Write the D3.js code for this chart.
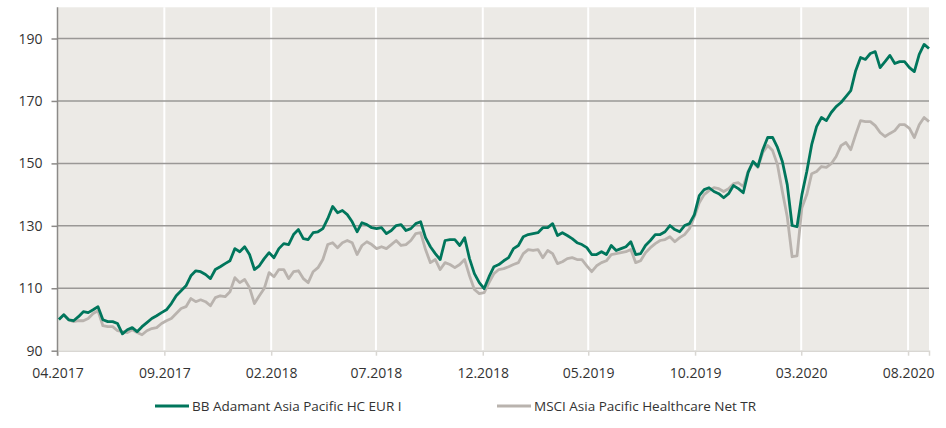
<!DOCTYPE html>
<html>
<head>
<meta charset="utf-8">
<script src="https://cdn.jsdelivr.net/npm/d3@7/dist/d3.min.js"></script>
<style>
  html, body { margin: 0; padding: 0; background: #ffffff; }
  svg { display: block; }
  text { font-family: "Open Sans", "Noto Sans", sans-serif; fill: #333333; }
</style>
</head>
<body>
<svg id="chart" width="946" height="428"></svg>
<script>
const dates = [
"2017-04-03","2017-04-10","2017-04-17","2017-04-24","2017-05-01","2017-05-08","2017-05-15","2017-05-22","2017-05-29","2017-06-05",
"2017-06-12","2017-06-19","2017-06-26","2017-07-03","2017-07-10","2017-07-17","2017-07-24","2017-07-31","2017-08-07","2017-08-14",
"2017-08-21","2017-08-28","2017-09-04","2017-09-11","2017-09-18","2017-09-25","2017-10-02","2017-10-09","2017-10-16","2017-10-23",
"2017-10-30","2017-11-06","2017-11-13","2017-11-20","2017-11-27","2017-12-04","2017-12-11","2017-12-18","2017-12-25",
"2018-01-01","2018-01-08","2018-01-15","2018-01-22","2018-01-29","2018-02-05","2018-02-12","2018-02-19","2018-02-26","2018-03-05",
"2018-03-12","2018-03-19","2018-03-26","2018-04-02","2018-04-09","2018-04-16","2018-04-23","2018-04-30","2018-05-07","2018-05-14",
"2018-05-21","2018-05-28","2018-06-04","2018-06-11","2018-06-18","2018-06-25","2018-07-02","2018-07-09","2018-07-16","2018-07-23",
"2018-07-30","2018-08-06","2018-08-13","2018-08-20","2018-08-27","2018-09-03","2018-09-10","2018-09-17","2018-09-24","2018-10-01",
"2018-10-08","2018-10-15","2018-10-22","2018-10-29","2018-11-05","2018-11-12","2018-11-19","2018-11-26","2018-12-03","2018-12-10",
"2018-12-17","2018-12-24","2018-12-31",
"2019-01-07","2019-01-14","2019-01-21","2019-01-28","2019-02-04","2019-02-11","2019-02-18","2019-02-25","2019-03-04","2019-03-11",
"2019-03-18","2019-03-25","2019-04-01","2019-04-08","2019-04-15","2019-04-22","2019-04-29","2019-05-06","2019-05-13","2019-05-20",
"2019-05-27","2019-06-03","2019-06-10","2019-06-17","2019-06-24","2019-07-01","2019-07-08","2019-07-15","2019-07-22","2019-07-29",
"2019-08-05","2019-08-12","2019-08-19","2019-08-26","2019-09-02","2019-09-09","2019-09-16","2019-09-23","2019-09-30","2019-10-07",
"2019-10-14","2019-10-21","2019-10-28","2019-11-04","2019-11-11","2019-11-18","2019-11-25","2019-12-02","2019-12-09","2019-12-16",
"2019-12-23","2019-12-30",
"2020-01-06","2020-01-13","2020-01-20","2020-01-27","2020-02-03","2020-02-10","2020-02-17","2020-02-24","2020-03-02","2020-03-09",
"2020-03-16","2020-03-23","2020-03-30","2020-04-06","2020-04-13","2020-04-20","2020-04-27","2020-05-04","2020-05-11","2020-05-18",
"2020-05-25","2020-06-01","2020-06-08","2020-06-15","2020-06-22","2020-06-29","2020-07-06","2020-07-13","2020-07-20","2020-07-27",
"2020-08-03","2020-08-10","2020-08-17","2020-08-24","2020-08-31"
];

const fundValues = [
100.0,101.5,99.9,99.6,100.9,102.5,102.2,103.1,104.1,99.9,
99.3,99.3,98.7,95.4,96.7,97.4,96.1,97.7,99.0,100.3,
101.2,102.2,103.1,105.1,107.6,109.2,110.8,114.0,115.6,115.3,
114.4,113.1,116.0,116.9,117.9,118.8,122.7,121.7,123.3,120.8,
116.0,117.2,119.5,121.4,119.8,122.7,124.3,124.0,127.2,128.8,
125.9,125.6,127.8,128.1,129.1,132.3,136.2,134.2,134.9,133.6,
131.3,128.1,131.0,130.4,129.4,129.1,129.4,127.5,128.5,130.1,
130.4,128.5,129.1,130.7,131.3,126.2,123.3,121.1,119.2,125.3,
125.6,125.6,123.7,126.2,119.5,114.7,111.8,109.9,113.7,116.9,
117.6,118.8,119.8,122.7,123.7,126.5,127.2,127.5,127.8,129.4,
129.4,130.7,126.9,127.8,126.9,125.9,124.6,124.0,123.0,120.8,
120.8,121.7,120.8,123.7,122.1,122.7,123.3,124.9,120.8,121.1,
123.7,125.3,127.2,127.2,128.1,130.1,128.8,128.1,130.1,130.7,
133.6,139.7,141.6,142.2,141.0,140.3,139.0,140.3,142.9,141.9,
140.6,147.1,150.6,149.0,154.4,158.3,158.3,155.1,150.6,143.2,
130.1,129.7,140.0,147.4,156.0,161.8,164.7,163.7,166.3,168.2,
169.5,171.4,173.3,179.7,183.9,183.3,185.2,185.8,180.7,182.6,
184.6,182.0,182.6,182.6,180.7,179.4,184.9,188.1,186.8
];

const indexValues = [
100.0,101.5,99.9,99.3,99.6,99.6,100.3,101.9,102.8,98.0,
97.7,97.7,96.4,96.1,95.8,96.7,95.8,95.1,96.4,97.1,
97.4,98.7,99.6,100.3,101.9,103.5,104.1,106.7,105.7,106.3,
105.7,104.4,107.0,107.6,107.3,108.9,113.4,111.8,112.8,110.2,
105.1,107.6,109.9,115.0,113.7,116.0,116.0,113.1,115.3,115.6,
113.1,111.8,115.3,116.6,119.2,124.0,124.6,123.0,124.6,125.3,
124.6,120.8,123.7,124.9,124.0,122.7,123.3,122.7,124.0,125.3,
123.7,124.0,125.3,127.5,127.8,122.4,118.2,119.2,116.0,118.2,
117.6,116.6,117.6,119.2,114.0,109.6,108.3,108.6,111.8,114.7,
116.0,116.3,116.9,117.6,118.2,121.1,122.4,122.1,122.4,119.8,
122.1,121.1,117.9,118.5,119.5,119.8,119.2,119.2,117.2,115.3,
117.2,118.2,118.8,120.8,121.1,121.4,121.7,122.4,118.2,118.8,
121.4,123.0,124.3,125.3,125.6,126.5,124.9,126.2,127.2,129.1,
132.9,137.4,140.0,141.3,142.2,141.9,141.0,141.9,143.5,143.8,
142.6,147.4,150.3,148.7,153.5,155.7,154.1,149.6,141.0,132.9,
120.1,120.4,135.8,140.0,146.7,147.4,149.0,148.7,149.9,152.2,
155.7,156.7,154.4,159.2,163.7,163.4,163.4,162.1,159.9,158.6,
159.6,160.5,162.4,162.4,161.2,158.3,162.4,164.7,163.4
];

const seriesNames = ["BB Adamant Asia Pacific HC EUR I", "MSCI Asia Pacific Healthcare Net TR"];
const yTickValues = [90, 110, 130, 150, 170, 190];
const xTickDates = ["2017-04-01","2017-09-01","2018-02-01","2018-07-01","2018-12-01","2019-05-01","2019-10-01","2020-03-01","2020-08-01"];
const xTickLabels = ["04.2017","09.2017","02.2018","07.2018","12.2018","05.2019","10.2019","03.2020","08.2020"];
const xDomain = ["2017-04-01", "2020-08-31"];
const yDomain = [90, 200];

(function () {
  const parse = d3.utcParse("%Y-%m-%d");
  const svg = d3.select("#chart");

  const pLeft = 57.5, pRight = 929, pTop = 7.3, pBottom = 350.7;
  const x = d3.scaleUtc().domain(xDomain.map(parse)).range([pLeft, pRight]);
  const y = d3.scaleLinear().domain(yDomain).range([pBottom, pTop]);

  // background
  svg.append("rect").attr("x", pLeft).attr("y", pTop)
    .attr("width", pRight - pLeft).attr("height", pBottom - pTop)
    .attr("fill", "#ECEAE6");

  // vertical white grid lines
  const tickDates = xTickDates.map(parse);
  svg.append("g").selectAll("line").data(tickDates.slice(1)).join("line")
    .attr("x1", d => x(d)).attr("x2", d => x(d))
    .attr("y1", pTop).attr("y2", pBottom)
    .attr("stroke", "#ffffff").attr("stroke-width", 2);

  // horizontal grid lines
  svg.append("g").selectAll("line").data(yTickValues.slice(1)).join("line")
    .attr("x1", pLeft).attr("x2", pRight)
    .attr("y1", d => y(d)).attr("y2", d => y(d))
    .attr("stroke", "#9a9896").attr("stroke-width", 1.5);

  // bottom axis
  const xAxis = d3.axisBottom(x).tickValues(tickDates)
    .tickFormat((d, i) => xTickLabels[i]).tickSize(5).tickPadding(12);
  const gx = svg.append("g").attr("transform", `translate(0,${pBottom})`).call(xAxis);
  gx.select(".domain").attr("stroke", "#d9d7d3").attr("stroke-width", 1.5);
  gx.selectAll(".tick line").attr("stroke", "#d9d7d3").attr("stroke-width", 1.5);
  gx.selectAll(".tick text").attr("font-size", 14).attr("fill", "#333")
    .attr("font-family", "'Open Sans', sans-serif");

  // left axis
  const yAxis = d3.axisLeft(y).tickValues(yTickValues).tickSize(6).tickPadding(9);
  const gy = svg.append("g").attr("transform", `translate(${pLeft},0)`).call(yAxis);
  gy.select(".domain").attr("stroke", "#8c8a88").attr("stroke-width", 1.5)
    .attr("d", `M0,${pTop}V${pBottom + 5}`);
  gy.selectAll(".tick line").attr("stroke", "#8c8a88").attr("stroke-width", 1.5);
  gy.selectAll(".tick text").attr("font-size", 14).attr("fill", "#333")
    .attr("font-family", "'Open Sans', sans-serif");

  // lines
  const parsedDates = dates.map(parse);
  const line = d3.line().x((d, i) => x(parsedDates[i])).y(d => y(d)).curve(d3.curveLinear);

  svg.append("path").datum(indexValues).attr("d", line)
    .attr("fill", "none").attr("stroke", "#B9B3AE").attr("stroke-width", 2.8)
    .attr("stroke-linejoin", "round");
  svg.append("path").datum(fundValues).attr("d", line)
    .attr("fill", "none").attr("stroke", "#00765C").attr("stroke-width", 2.8)
    .attr("stroke-linejoin", "round");

  // legend
  const legendColors = ["#00765C", "#B9B3AE"];
  const legendX = [155, 497];
  const lg = svg.append("g");
  seriesNames.forEach((name, i) => {
    lg.append("line").attr("x1", legendX[i]).attr("x2", legendX[i] + 34)
      .attr("y1", 406).attr("y2", 406)
      .attr("stroke", legendColors[i]).attr("stroke-width", 3);
    lg.append("text").attr("x", legendX[i] + 37).attr("y", 411)
      .attr("font-size", 13.5).attr("fill", "#333").text(name);
  });
})();
</script>
</body>
</html>
